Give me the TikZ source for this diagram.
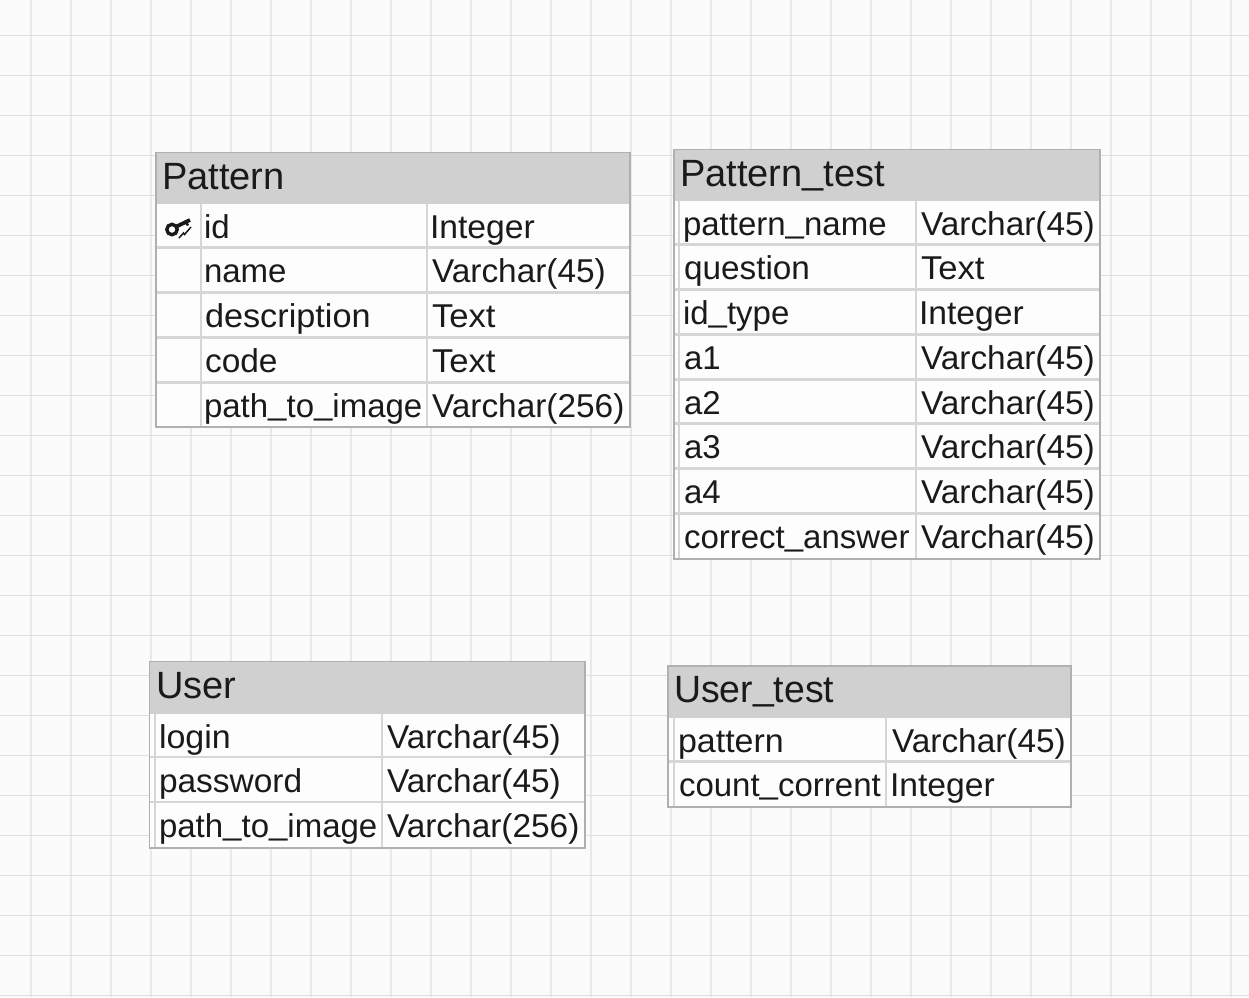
\documentclass[tikz,border=0pt]{standalone}
\usepackage{fontspec}
\setmainfont{Liberation Sans}
\definecolor{bgc}{HTML}{FBFBFB}
\definecolor{gridv}{HTML}{E9E9E9}
\definecolor{gridh}{HTML}{DEDEDE}
\definecolor{headc}{HTML}{D0D0D0}
\definecolor{framec}{HTML}{B0B0B0}
\definecolor{rulec}{HTML}{D6D6D6}
\definecolor{inkc}{HTML}{1A1A1A}
\tikzset{
  cell/.style={anchor=base west,inner sep=0pt,outer sep=0pt,text=inkc,font=\fontsize{33}{33}\selectfont},
  title/.style={anchor=base west,inner sep=0pt,outer sep=0pt,text=inkc,font=\fontsize{38}{38}\selectfont},
  frame/.style={draw=framec,line width=1.2pt},
  sep/.style={draw=rulec,line width=2.8pt},
  head/.style={fill=headc},
  gv/.style={draw=gridv,line width=1.5pt},
  gh/.style={draw=gridh,line width=1pt}
}
\newcommand{\sx}[2]{\scalebox{#1}[1]{#2}}
\newcommand{\usc}{\raisebox{3pt}{\_}}
\newcommand{\vc}[1]{\sx{1.012}{Varchar(#1)}}
\newcommand{\tx}{\sx{1.05}{Text}}
\newcommand{\ig}{\sx{1.02}{Integer}}
\newcommand{\tbl}[7]{% x1 y1 x2 y2 headbottom hlines vlines
  \fill[white!40!bgc] (#1,#2) rectangle (#3,#4);
  \foreach \yy in {#6} \draw[sep] (#1,\yy) -- (#3,\yy);
  \foreach \xx in {#7} \draw[sep] (\xx,#5) -- (\xx,#4);
  \fill[head] (#1,#2) rectangle (#3,#5);
  \draw[frame] (#1,#2) rectangle (#3,#4);
}
\begin{document}
\begin{tikzpicture}[x=1pt,y=-1pt]
\useasboundingbox (0,0) rectangle (1249,997);
\fill[bgc] (0,0) rectangle (1249,997);
\foreach \x in {31,71,...,1231} \draw[gv] (\x,0) -- (\x,997);
\foreach \y in {35.5,75.5,...,995.5} \draw[gh] (0,\y) -- (1249,\y);

% Pattern
\tbl{156}{152.5}{630}{427}{203.5}{247.5,292.5,337.5,382.5}{201,427}
\node[title] (p0) at (162,189) {Pattern};
\node[cell] (p1) at (204,238) {id};
\node[cell] (p1t) at (430,238) {\ig};
\node[cell] (p2) at (204,282) {name};
\node[cell] (p2t) at (432,282) {\vc{45}};
\node[cell] (p3) at (205,327) {\sx{1.038}{description}};
\node[cell] (p3t) at (432,327) {\tx};
\node[cell] (p4) at (205,372) {\sx{1.015}{code}};
\node[cell] (p4t) at (432,372) {\tx};
\node[cell] (p5) at (204,417) {path\usc to\usc image};
\node[cell] (p5t) at (432,417) {\vc{256}};
% key icon
\begin{scope}[inkc]
\draw[line width=3.4pt] (172,229.5) circle (5.2pt);
\draw[line width=3.8pt] (176.5,226.5) -- (190,220);
\draw[line width=2.4pt] (185,220.5) -- (188,225.5);
\draw[line width=1.5pt] (179,238) -- (183.5,233) -- (184.5,234.5) -- (191,227);
\end{scope}

% Pattern_test
\tbl{674}{149.5}{1100}{559}{200.5}{244.5,289.5,334.5,379.5,423.5,468.5,513.5}{679,916}
\node[title] (t0) at (680,186) {Pattern\usc test};
\node[cell] (t1) at (683,235) {pattern\usc name};
\node[cell] (t1t) at (921,235) {\vc{45}};
\node[cell] (t2) at (684,279) {\sx{1.01}{question}};
\node[cell] (t2t) at (921,279) {\tx};
\node[cell] (t3) at (683,324) {id\usc type};
\node[cell] (t3t) at (919,324) {\ig};
\node[cell] (t4) at (684,369) {a1};
\node[cell] (t4t) at (921,369) {\vc{45}};
\node[cell] (t5) at (684,414) {a2};
\node[cell] (t5t) at (921,414) {\vc{45}};
\node[cell] (t6) at (684,458) {a3};
\node[cell] (t6t) at (921,458) {\vc{45}};
\node[cell] (t7) at (684,503) {a4};
\node[cell] (t7t) at (921,503) {\vc{45}};
\node[cell] (t8) at (684,548) {correct\usc answer};
\node[cell] (t8t) at (921,548) {\vc{45}};

% User
\tbl{149.5}{661.5}{585}{848}{713.5}{757,802}{155,382}
\node[title] (u0) at (156,698) {User};
\node[cell] (u1) at (159,748) {\sx{1.03}{login}};
\node[cell] (u1t) at (387,748) {\vc{45}};
\node[cell] (u2) at (159,792) {\sx{1.014}{password}};
\node[cell] (u2t) at (387,792) {\vc{45}};
\node[cell] (u3) at (159,837) {path\usc to\usc image};
\node[cell] (u3t) at (387,837) {\vc{256}};

% User_test
\tbl{668}{666}{1071}{807}{717.5}{761.5}{674,886}
\node[title] (v0) at (674,702) {\sx{0.985}{User\usc test}};
\node[cell] (v1) at (678,752) {\sx{1.03}{pattern}};
\node[cell] (v1t) at (892,752) {\vc{45}};
\node[cell] (v2) at (679,796) {count\usc corrent};
\node[cell] (v2t) at (890,796) {\ig};
\end{tikzpicture}
\end{document}
